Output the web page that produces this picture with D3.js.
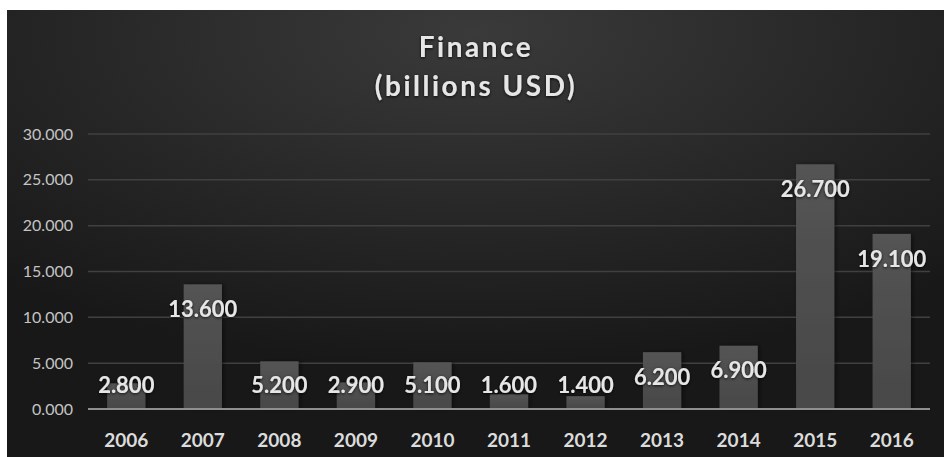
<!DOCTYPE html>
<html>
<head>
<meta charset="utf-8">
<script src="https://cdn.jsdelivr.net/npm/d3@7"></script>
<style>
  html, body { margin: 0; padding: 0; background: #ffffff; }
  svg { display: block; }
</style>
</head>
<body>
<svg id="chart" width="944" height="457"></svg>
<script>
// Yearly finance totals, billions USD
const years = ["2006", "2007", "2008", "2009", "2010", "2011", "2012", "2013", "2014", "2015", "2016"];
const finance = [2.8, 13.6, 5.2, 2.9, 5.1, 1.6, 1.4, 6.2, 6.9, 26.7, 19.1];
const yTicks = [0, 5, 10, 15, 20, 25, 30];
const titleLines = ["Finance", "(billions USD)"];

const W = 944, H = 457;
const svg = d3.select("#chart");
const defs = svg.append("defs");

// Dark panel with a soft lighter glow near the top centre
const bg = defs.append("radialGradient").attr("id", "bgGrad")
  .attr("cx", "50%").attr("cy", "5%").attr("r", "75%");
bg.append("stop").attr("offset", "0%").attr("stop-color", "#3a3a3a");
bg.append("stop").attr("offset", "55%").attr("stop-color", "#272727");
bg.append("stop").attr("offset", "100%").attr("stop-color", "#181818");

const barGrad = defs.append("linearGradient").attr("id", "barGrad")
  .attr("x1", 0).attr("y1", 0).attr("x2", 0).attr("y2", 1);
barGrad.append("stop").attr("offset", "0%").attr("stop-color", "#545454");
barGrad.append("stop").attr("offset", "100%").attr("stop-color", "#484848");

const glow = defs.append("filter").attr("id", "glow")
  .attr("x", "-10%").attr("y", "-30%").attr("width", "120%").attr("height", "160%");
glow.append("feDropShadow").attr("dx", 0).attr("dy", 1).attr("stdDeviation", 1.6)
  .attr("flood-color", "#000").attr("flood-opacity", 0.8);

const barShadow = defs.append("filter").attr("id", "barShadow")
  .attr("x", "-20%").attr("y", "-10%").attr("width", "140%").attr("height", "120%");
barShadow.append("feDropShadow").attr("dx", 2).attr("dy", 0).attr("stdDeviation", 2)
  .attr("flood-color", "#000").attr("flood-opacity", 0.45);

svg.append("rect").attr("x", 7).attr("y", 10).attr("width", W - 7).attr("height", H - 10)
  .attr("fill", "url(#bgGrad)");

const plot = { left: 88, right: 930, top: 134, bottom: 409 };

const x = d3.scaleBand().domain(years).range([plot.left, plot.right]).paddingInner(0.5).paddingOuter(0.25);
const y = d3.scaleLinear().domain([0, 30]).range([plot.bottom, plot.top]);

// Horizontal gridlines
svg.append("g").selectAll("line").data(yTicks.filter(d => d > 0)).join("line")
  .attr("x1", plot.left).attr("x2", plot.right)
  .attr("y1", d => y(d)).attr("y2", d => y(d))
  .attr("stroke", "#404040").attr("stroke-width", 1.5);

// Y axis labels
const yAxis = d3.axisLeft(y).tickValues(yTicks).tickFormat(d3.format(".3f")).tickSize(0).tickPadding(0);
const gy = svg.append("g").attr("transform", `translate(73,0)`).call(yAxis);
gy.select(".domain").remove();
gy.selectAll("text").attr("font-family", "Lato, 'Open Sans', sans-serif")
  .attr("font-size", 16).attr("fill", "#c4c4c4");

// Bars
svg.append("g").selectAll("rect").data(finance).join("rect")
  .attr("x", (d, i) => x(years[i]))
  .attr("width", x.bandwidth())
  .attr("y", d => y(d))
  .attr("height", d => y(0) - y(d))
  .attr("fill", "url(#barGrad)")
  .attr("filter", "url(#barShadow)");

// Zero baseline
svg.append("line").attr("x1", plot.left).attr("x2", plot.right)
  .attr("y1", y(0)).attr("y2", y(0))
  .attr("stroke", "#8f8f8f").attr("stroke-width", 2);

// X axis labels
const xAxis = d3.axisBottom(x).tickSize(0).tickPadding(0);
const gx = svg.append("g").attr("transform", `translate(0,${y(0)})`).call(xAxis);
gx.select(".domain").remove();
gx.selectAll("text").attr("dy", null).attr("y", 38)
  .attr("font-family", "Lato, 'Open Sans', sans-serif").attr("font-weight", 700)
  .attr("font-size", 19).attr("fill", "#dcdcdc");

// Value labels, inside the bar top, kept above the baseline for short bars
svg.append("g").selectAll("text").data(finance).join("text")
  .attr("x", (d, i) => x(years[i]) + x.bandwidth() / 2)
  .attr("y", d => Math.min(y(d) + 25, y(0) - 24))
  .attr("dy", "0.35em")
  .attr("text-anchor", "middle")
  .attr("font-family", "Lato, 'Open Sans', sans-serif")
  .attr("font-weight", 700)
  .attr("font-size", 22).attr("fill", "#e6e6e6")
  .attr("filter", "url(#glow)")
  .text(d => d3.format(".3f")(d));

// Title
svg.append("g").selectAll("text").data(titleLines).join("text")
  .attr("x", 476).attr("y", (d, i) => 57 + i * 39)
  .attr("text-anchor", "middle")
  .attr("font-family", "Lato, 'Open Sans', sans-serif")
  .attr("font-weight", 700)
  .attr("font-size", 28).attr("letter-spacing", 2.5)
  .attr("fill", "#e6e6e6").attr("filter", "url(#glow)")
  .text(d => d);
</script>
</body>
</html>
